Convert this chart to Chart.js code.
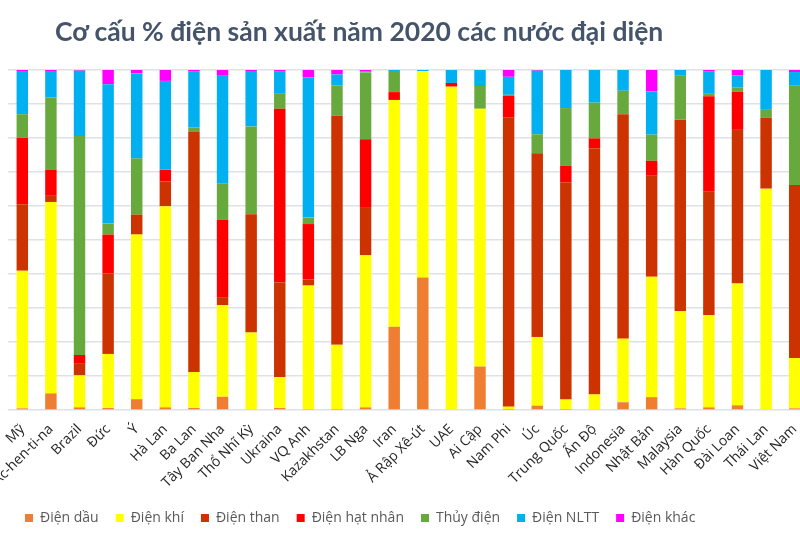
<!DOCTYPE html>
<html>
<head>
<meta charset="utf-8">
<script src="https://cdn.jsdelivr.net/npm/chart.js@4"></script>
<style>
  html, body { margin: 0; padding: 0; background: #fff; overflow: hidden; }
  #wrap { position: relative; width: 812px; height: 543px; }
  #title {
    position: absolute; left: 55px; top: 16px; margin: 0;
    font: bold 26.5px Lato, sans-serif; line-height: 1.2; color: #44546A; white-space: nowrap;
  }
  #chart { position: absolute; left: 0; top: 0; }
</style>
</head>
<body>
<div id="wrap">
  <canvas id="chart" width="812" height="543"></canvas>
  <h1 id="title">Cơ cấu % điện sản xuất năm 2020 các nước đại diện</h1>
</div>
<script>
const countries = ['Mỹ', 'Ác-hen-ti-na', 'Brazil', 'Đức', 'Ý', 'Hà Lan', 'Ba Lan', 'Tây Ban Nha', 'Thổ Nhĩ Kỳ', 'Ukraina',
  'VQ Anh', 'Kazakhstan', 'LB Nga', 'Iran', 'Ả Rập Xê-út', 'UAE', 'Ai Cập', 'Nam Phi', 'Úc', 'Trung Quốc',
  'Ấn Độ', 'Indonesia', 'Nhật Bản', 'Malaysia', 'Hàn Quốc', 'Đài Loan', 'Thái Lan', 'Việt Nam']

// % share of each source, same order as countries
const dienDau = [0.5, 4.9, 0.8, 0.6, 3.2, 0.8, 0.6, 3.9, 0.2, 0.6,
  0.3, 0.1, 0.8, 24.5, 39.0, 0, 12.8, 0.1, 1.3, 0.1,
  0.2, 2.3, 3.8, 0.5, 0.8, 1.4, 0, 0.5]
const dienKhi = [40.5, 56.3, 9.4, 15.9, 48.4, 59.1, 10.6, 27.0, 22.6, 9.1,
  36.3, 19.1, 44.7, 66.7, 60.7, 95.1, 75.8, 0.9, 20.2, 3.0,
  4.4, 18.7, 35.4, 28.6, 27.1, 35.8, 65.1, 14.8]
const dienThan = [19.5, 1.8, 3.4, 23.7, 5.9, 7.3, 70.7, 2.3, 34.8, 27.8,
  1.8, 67.3, 14.2, 0, 0, 0, 0, 85.0, 54.0, 63.8,
  72.4, 66.0, 29.7, 56.3, 36.3, 45.2, 20.9, 50.9]
const hatNhan = [19.6, 7.6, 2.6, 11.4, 0, 3.4, 0, 22.7, 0, 51.1,
  16.3, 0, 19.9, 2.3, 0, 1.1, 0, 6.4, 0, 4.9,
  2.9, 0, 4.4, 0, 28.1, 11.2, 0, 0]
const thuyDien = [6.9, 21.3, 64.4, 3.3, 16.5, 0.1, 1.2, 10.8, 25.8, 4.4,
  1.9, 9.0, 19.7, 6.2, 0, 0, 6.7, 0.3, 5.6, 17.0,
  10.5, 6.9, 7.7, 12.9, 0.7, 1.2, 2.5, 29.3]
const nltt = [12.7, 7.8, 19.2, 40.9, 25.0, 26.1, 16.4, 31.6, 16.3, 6.5,
  41.2, 3.2, 0.2, 0.3, 0.3, 3.8, 4.7, 5.3, 18.7, 11.2,
  9.6, 6.1, 12.7, 1.7, 6.5, 3.6, 11.5, 3.9]
const dienKhac = [0.3, 0.3, 0.2, 4.2, 1.0, 3.3, 0.5, 1.7, 0.3, 0.5,
  2.2, 1.3, 0.5, 0, 0, 0, 0, 2.0, 0.2, 0,
  0, 0, 6.3, 0, 0.5, 1.6, 0, 0.6]

const yTicks = [0, 10, 20, 30, 40, 50, 60, 70, 80, 90, 100]

const series = [
  { label: 'Điện dầu', data: dienDau, color: '#F07E32' },
  { label: 'Điện khí', data: dienKhi, color: '#FFFF00' },
  { label: 'Điện than', data: dienThan, color: '#CC3300' },
  { label: 'Điện hạt nhân', data: hatNhan, color: '#FF0000' },
  { label: 'Thủy điện', data: thuyDien, color: '#68A93E' },
  { label: 'Điện NLTT', data: nltt, color: '#00B0F0' },
  { label: 'Điện khác', data: dienKhac, color: '#FF00FF' }
]

const ctx = document.getElementById('chart').getContext('2d')
const myChart = new Chart(ctx, {
  type: 'bar',
  data: {
    labels: countries,
    datasets: series.map((s) => ({
      label: s.label,
      data: s.data,
      backgroundColor: s.color,
      borderWidth: 0,
      categoryPercentage: 1,
      barPercentage: 0.4
    }))
  },
  options: {
    responsive: false,
    animation: false,
    layout: { padding: { top: 70, left: 8, right: 3, bottom: 8 } },
    scales: {
      x: {
        stacked: true,
        grid: { display: false },
        border: { display: false },
        ticks: {
          autoSkip: false,
          minRotation: 45,
          maxRotation: 45,
          padding: 3,
          color: '#262626',
          font: { family: 'Open Sans', size: 14 }
        }
      },
      y: {
        stacked: true,
        min: 0,
        max: 100,
        afterBuildTicks: (axis) => { axis.ticks = yTicks.map((v) => ({ value: v })) },
        grid: { color: '#DDE1E8', lineWidth: 1.5, drawTicks: false },
        border: { display: false },
        ticks: { display: false }
      }
    },
    plugins: {
      title: { display: false },
      tooltip: { enabled: false },
      legend: {
        position: 'bottom',
        align: 'start',
        labels: {
          boxWidth: 8,
          boxHeight: 8,
          padding: 17,
          color: '#595959',
          font: { family: 'Open Sans', size: 14 }
        }
      }
    }
  }
})
</script>
</body>
</html>
